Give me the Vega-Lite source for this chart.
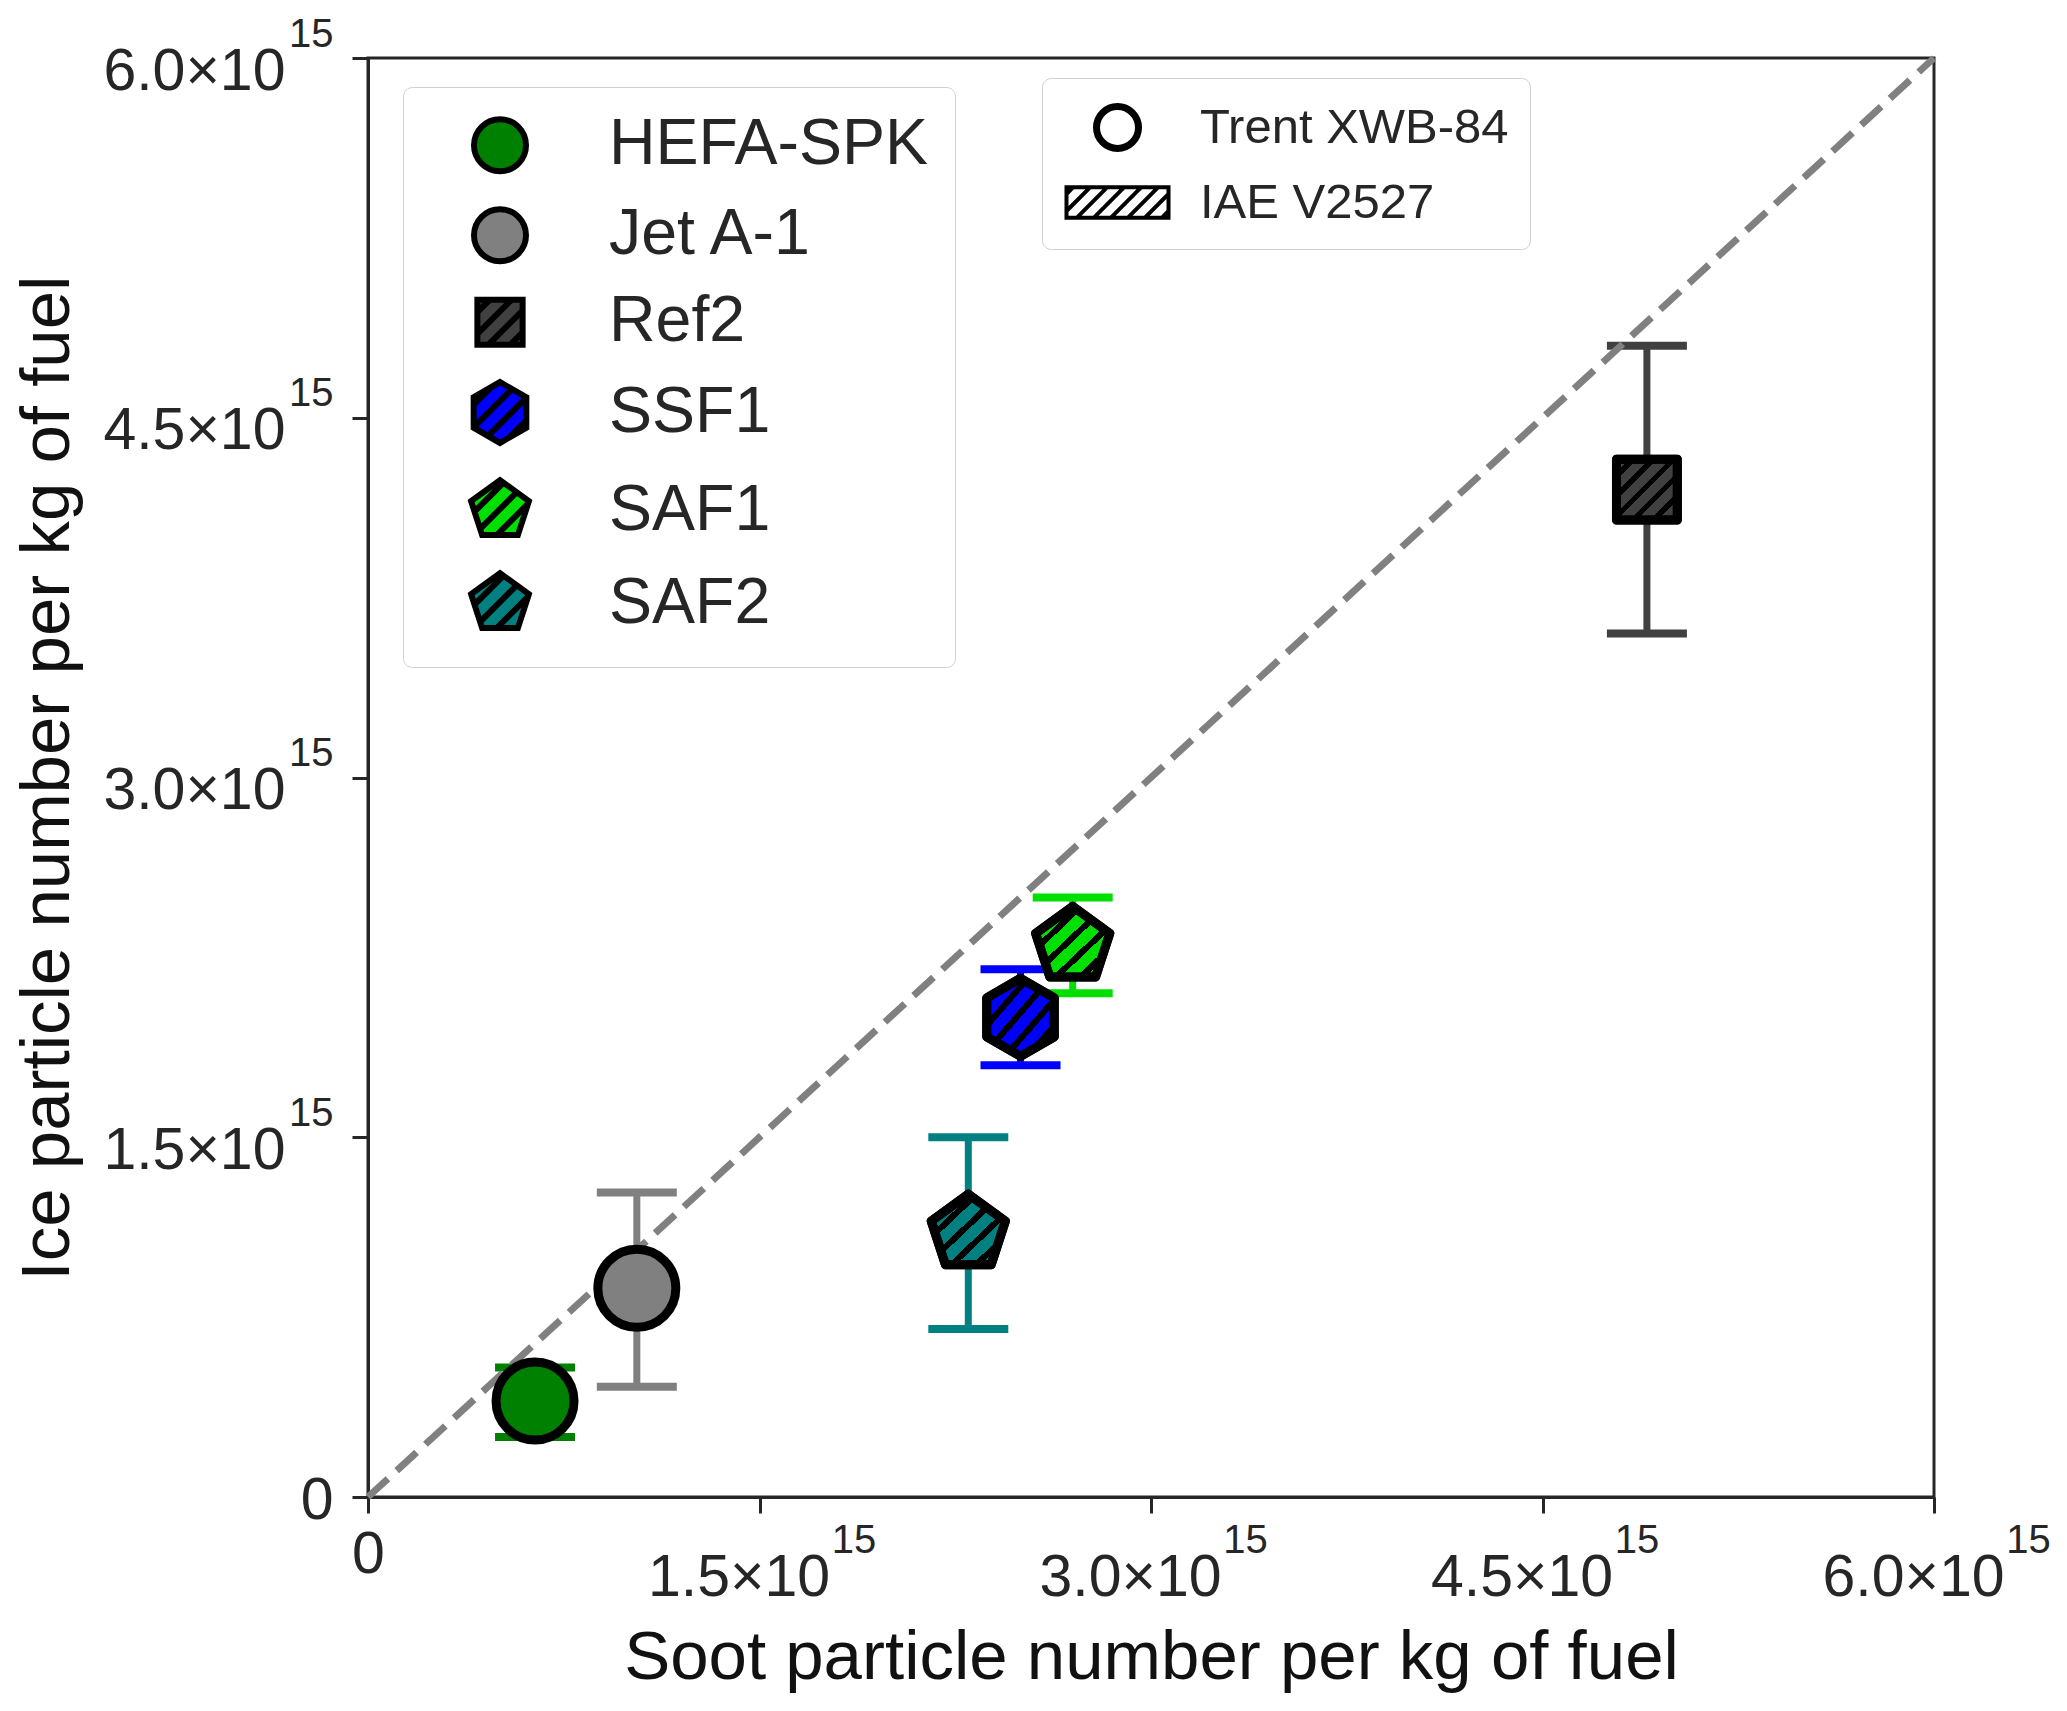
{
  "$schema": "https://vega.github.io/schema/vega-lite/v6.json",
  "width": 1566,
  "height": 1439,
  "autosize": {"type": "none"},
  "padding": {"left": 368, "top": 58, "right": 133, "bottom": 214},
  "background": "white",
  "config": {
    "font": "Liberation Sans",
    "view": {"stroke": "#262626", "strokeWidth": 3},
    "axis": {
      "grid": false,
      "domainColor": "#262626",
      "domainWidth": 3,
      "tickColor": "#262626",
      "tickWidth": 3,
      "tickSize": 16,
      "labelColor": "#262626",
      "labelFont": "Liberation Sans",
      "labelFlush": false,
      "labelOverlap": false,
      "labelBound": false,
      "labelLimit": 0,
      "titleFont": "Liberation Sans",
      "titleFontWeight": "normal",
      "titleColor": "#111111"
    },
    "legend": {"labelFont": "Liberation Sans", "labelColor": "#262626", "labelLimit": 0}
  },
  "datasets": {
    "fuels": [
      {"fuel": "HEFA-SPK", "engine": "Trent XWB-84", "soot": 0.64e15, "ice": 0.4e15, "ice_lo": 0.25e15, "ice_hi": 0.54e15},
      {"fuel": "Jet A-1", "engine": "Trent XWB-84", "soot": 1.03e15, "ice": 0.87e15, "ice_lo": 0.46e15, "ice_hi": 1.27e15},
      {"fuel": "Ref2", "engine": "IAE V2527", "soot": 4.9e15, "ice": 4.2e15, "ice_lo": 3.6e15, "ice_hi": 4.8e15},
      {"fuel": "SSF1", "engine": "IAE V2527", "soot": 2.5e15, "ice": 2.0e15, "ice_lo": 1.8e15, "ice_hi": 2.2e15},
      {"fuel": "SAF1", "engine": "IAE V2527", "soot": 2.7e15, "ice": 2.3e15, "ice_lo": 2.1e15, "ice_hi": 2.5e15},
      {"fuel": "SAF2", "engine": "IAE V2527", "soot": 2.3e15, "ice": 1.1e15, "ice_lo": 0.7e15, "ice_hi": 1.5e15}
    ],
    "diag": [
      {"soot": 0, "ice": 0},
      {"soot": 6e15, "ice": 6e15}
    ]
  },
  "resolve": {
    "axis": {"x": "independent", "y": "independent"},
    "scale": {"fill": "independent", "shape": "independent", "size": "independent", "strokeWidth": "independent"}
  },
  "layer": [
    {
      "data": {"name": "fuels"},
      "mark": {"type": "rule", "strokeWidth": 7, "opacity": 1},
      "encoding": {
        "x": {
          "field": "soot", "type": "quantitative",
          "scale": {"domain": [0, 6e15], "nice": false},
          "axis": {
            "orient": "bottom",
            "title": "Soot particle number per kg of fuel",
            "titleFontSize": 69,
            "titleY": 181,
            "titleBaseline": "alphabetic",
            "values": [0, 1.5e15, 3e15, 4.5e15, 6e15],
            "labelExpr": "datum.value == 0 ? '' : format(datum.value / 1e15, '.1f') + '×10'",
            "labelFontSize": 59,
            "labelOffset": -21,
            "labelPadding": 35,
            "labelBaseline": "top",
            "labelAlign": "center"
          }
        },
        "y": {
          "field": "ice_lo", "type": "quantitative",
          "scale": {"domain": [0, 6e15], "nice": false},
          "axis": {
            "orient": "left",
            "title": "Ice particle number per kg of fuel",
            "titleFontSize": 69,
            "titleX": -300,
            "titleY": 719.5,
            "titleAngle": -90,
            "titleAlign": "center",
            "titleBaseline": "alphabetic",
            "values": [0, 1.5e15, 3e15, 4.5e15, 6e15],
            "labelExpr": "datum.value == 0 ? '' : format(datum.value / 1e15, '.1f') + '×10'",
            "labelFontSize": 59,
            "labelOffset": 13,
            "labelPadding": 67,
            "labelAlign": "right",
            "labelBaseline": "middle"
          }
        },
        "y2": {"field": "ice_hi"},
        "color": {
          "field": "fuel", "type": "nominal",
          "scale": {
            "domain": ["SAF2", "SAF1", "SSF1", "Ref2", "Jet A-1", "HEFA-SPK"],
            "range": ["#008080", "#00e000", "#0000ff", "#404040", "#808080", "#008000"]
          },
          "legend": null
        }
      }
    },
    {
      "data": {"name": "fuels"},
      "mark": {"type": "tick", "orient": "horizontal", "size": 80, "thickness": 8, "opacity": 1},
      "encoding": {
        "x": {
          "field": "soot", "type": "quantitative",
          "scale": {"domain": [0, 6e15], "nice": false},
          "axis": {
            "orient": "bottom",
            "title": null,
            "domain": false,
            "tickOpacity": 0,
            "values": [0, 1.5e15, 3e15, 4.5e15, 6e15],
            "labelExpr": "datum.value == 0 ? '0' : '15'",
            "labelFontSize": {"condition": {"test": "datum.value == 0", "value": 59}, "value": 40},
            "labelOffset": {"condition": {"test": "datum.value == 0", "value": 0}, "value": 94},
            "labelPadding": {"condition": {"test": "datum.value == 0", "value": 12}, "value": 7},
            "labelBaseline": "top",
            "labelAlign": "center"
          }
        },
        "y": {
          "field": "ice_lo", "type": "quantitative",
          "scale": {"domain": [0, 6e15], "nice": false},
          "axis": {
            "orient": "left",
            "title": null,
            "domain": false,
            "tickOpacity": 0,
            "values": [0, 1.5e15, 3e15, 4.5e15, 6e15],
            "labelExpr": "datum.value == 0 ? '0' : '15'",
            "labelFontSize": {"condition": {"test": "datum.value == 0", "value": 59}, "value": 40},
            "labelOffset": {"condition": {"test": "datum.value == 0", "value": 3}, "value": -24},
            "labelPadding": 19,
            "labelAlign": "right",
            "labelBaseline": "middle"
          }
        },
        "color": {
          "field": "fuel", "type": "nominal",
          "scale": {
            "domain": ["SAF2", "SAF1", "SSF1", "Ref2", "Jet A-1", "HEFA-SPK"],
            "range": ["#008080", "#00e000", "#0000ff", "#404040", "#808080", "#008000"]
          },
          "legend": null
        }
      }
    },
    {
      "data": {"name": "fuels"},
      "mark": {"type": "tick", "orient": "horizontal", "size": 80, "thickness": 8, "opacity": 1},
      "encoding": {
        "x": {"field": "soot", "type": "quantitative", "scale": {"domain": [0, 6e15], "nice": false}, "axis": null},
        "y": {"field": "ice_hi", "type": "quantitative", "scale": {"domain": [0, 6e15], "nice": false}, "axis": null},
        "color": {
          "field": "fuel", "type": "nominal",
          "scale": {
            "domain": ["SAF2", "SAF1", "SSF1", "Ref2", "Jet A-1", "HEFA-SPK"],
            "range": ["#008080", "#00e000", "#0000ff", "#404040", "#808080", "#008000"]
          },
          "legend": null
        }
      }
    },
    {
      "data": {"name": "diag"},
      "mark": {"type": "line", "color": "#808080", "strokeWidth": 7, "strokeDash": [27, 12]},
      "encoding": {
        "x": {"field": "soot", "type": "quantitative", "scale": {"domain": [0, 6e15], "nice": false}, "axis": null},
        "y": {"field": "ice", "type": "quantitative", "scale": {"domain": [0, 6e15], "nice": false}, "axis": null}
      }
    },
    {
      "data": {"name": "fuels"},
      "mark": {"type": "point", "filled": true, "opacity": 1, "size": 6084, "stroke": "black", "strokeWidth": 9, "strokeJoin": "round"},
      "encoding": {
        "x": {"field": "soot", "type": "quantitative", "scale": {"domain": [0, 6e15], "nice": false}, "axis": null},
        "y": {"field": "ice", "type": "quantitative", "scale": {"domain": [0, 6e15], "nice": false}, "axis": null},
        "shape": {
          "field": "fuel", "type": "nominal",
          "scale": {
            "domain": ["HEFA-SPK", "Jet A-1", "Ref2", "SSF1", "SAF1", "SAF2"],
            "range": ["circle", "circle", "M-0.78,-0.78H0.78V0.78H-0.78Z", "M0,-1L0.866,-0.5L0.866,0.5L0,1L-0.866,0.5L-0.866,-0.5Z", "M0,-1L0.951,-0.309L0.588,0.809L-0.588,0.809L-0.951,-0.309Z", "M0,-1L0.951,-0.309L0.588,0.809L-0.588,0.809L-0.951,-0.309Z"]
          },
          "legend": null
        },
        "fill": {
          "field": "fuel", "type": "nominal",
          "scale": {
            "domain": ["HEFA-SPK", "Jet A-1", "Ref2", "SSF1", "SAF1", "SAF2"],
            "range": ["#008000", "#808080", "#404040", "#0000ff", "#00e000", "#008080"]
          },
          "legend": null
        }
      }
    },
    {
      "data": {"name": "fuels"},
      "transform": [{"filter": "datum.fuel == 'Ref2'"}],
      "mark": {
        "type": "point", "filled": true, "opacity": 1, "size": 6084, "stroke": "black", "strokeWidth": 9, "strokeJoin": "round",
        "shape": "M-0.78,-0.78H0.78V0.78H-0.78Z",
        "fill": {"gradient": "linear", "x1": 0, "y1": 0, "x2": 1, "y2": 1, "stops": [
          {"offset": 0, "color": "rgba(0,0,0,0)"}, {"offset": 0.107, "color": "rgba(0,0,0,0)"}, {"offset": 0.107, "color": "black"}, {"offset": 0.167, "color": "black"},
          {"offset": 0.167, "color": "rgba(0,0,0,0)"}, {"offset": 0.273, "color": "rgba(0,0,0,0)"}, {"offset": 0.273, "color": "black"}, {"offset": 0.333, "color": "black"},
          {"offset": 0.333, "color": "rgba(0,0,0,0)"}, {"offset": 0.44, "color": "rgba(0,0,0,0)"}, {"offset": 0.44, "color": "black"}, {"offset": 0.5, "color": "black"},
          {"offset": 0.5, "color": "rgba(0,0,0,0)"}, {"offset": 0.607, "color": "rgba(0,0,0,0)"}, {"offset": 0.607, "color": "black"}, {"offset": 0.667, "color": "black"},
          {"offset": 0.667, "color": "rgba(0,0,0,0)"}, {"offset": 0.773, "color": "rgba(0,0,0,0)"}, {"offset": 0.773, "color": "black"}, {"offset": 0.833, "color": "black"},
          {"offset": 0.833, "color": "rgba(0,0,0,0)"}, {"offset": 0.94, "color": "rgba(0,0,0,0)"}, {"offset": 0.94, "color": "black"}, {"offset": 1, "color": "black"}]}
      },
      "encoding": {
        "x": {"field": "soot", "type": "quantitative", "scale": {"domain": [0, 6e15], "nice": false}, "axis": null},
        "y": {"field": "ice", "type": "quantitative", "scale": {"domain": [0, 6e15], "nice": false}, "axis": null}
      }
    },
    {
      "data": {"name": "fuels"},
      "transform": [{"filter": "datum.fuel == 'SSF1'"}],
      "mark": {
        "type": "point", "filled": true, "opacity": 1, "size": 6084, "stroke": "black", "strokeWidth": 9, "strokeJoin": "round",
        "shape": "M0,-1L0.866,-0.5L0.866,0.5L0,1L-0.866,0.5L-0.866,-0.5Z",
        "fill": {"gradient": "linear", "x1": 0, "y1": 0, "x2": 1, "y2": 1, "stops": [
          {"offset": 0, "color": "rgba(0,0,0,0)"}, {"offset": 0.107, "color": "rgba(0,0,0,0)"}, {"offset": 0.107, "color": "black"}, {"offset": 0.167, "color": "black"},
          {"offset": 0.167, "color": "rgba(0,0,0,0)"}, {"offset": 0.273, "color": "rgba(0,0,0,0)"}, {"offset": 0.273, "color": "black"}, {"offset": 0.333, "color": "black"},
          {"offset": 0.333, "color": "rgba(0,0,0,0)"}, {"offset": 0.44, "color": "rgba(0,0,0,0)"}, {"offset": 0.44, "color": "black"}, {"offset": 0.5, "color": "black"},
          {"offset": 0.5, "color": "rgba(0,0,0,0)"}, {"offset": 0.607, "color": "rgba(0,0,0,0)"}, {"offset": 0.607, "color": "black"}, {"offset": 0.667, "color": "black"},
          {"offset": 0.667, "color": "rgba(0,0,0,0)"}, {"offset": 0.773, "color": "rgba(0,0,0,0)"}, {"offset": 0.773, "color": "black"}, {"offset": 0.833, "color": "black"},
          {"offset": 0.833, "color": "rgba(0,0,0,0)"}, {"offset": 0.94, "color": "rgba(0,0,0,0)"}, {"offset": 0.94, "color": "black"}, {"offset": 1, "color": "black"}]}
      },
      "encoding": {
        "x": {"field": "soot", "type": "quantitative", "scale": {"domain": [0, 6e15], "nice": false}, "axis": null},
        "y": {"field": "ice", "type": "quantitative", "scale": {"domain": [0, 6e15], "nice": false}, "axis": null}
      }
    },
    {
      "data": {"name": "fuels"},
      "transform": [{"filter": "datum.fuel == 'SAF1' || datum.fuel == 'SAF2'"}],
      "mark": {
        "type": "point", "filled": true, "opacity": 1, "size": 6084, "stroke": "black", "strokeWidth": 9, "strokeJoin": "round",
        "shape": "M0,-1L0.951,-0.309L0.588,0.809L-0.588,0.809L-0.951,-0.309Z",
        "fill": {"gradient": "linear", "x1": 0, "y1": 0, "x2": 1, "y2": 1, "stops": [
          {"offset": 0, "color": "rgba(0,0,0,0)"}, {"offset": 0.107, "color": "rgba(0,0,0,0)"}, {"offset": 0.107, "color": "black"}, {"offset": 0.167, "color": "black"},
          {"offset": 0.167, "color": "rgba(0,0,0,0)"}, {"offset": 0.273, "color": "rgba(0,0,0,0)"}, {"offset": 0.273, "color": "black"}, {"offset": 0.333, "color": "black"},
          {"offset": 0.333, "color": "rgba(0,0,0,0)"}, {"offset": 0.44, "color": "rgba(0,0,0,0)"}, {"offset": 0.44, "color": "black"}, {"offset": 0.5, "color": "black"},
          {"offset": 0.5, "color": "rgba(0,0,0,0)"}, {"offset": 0.607, "color": "rgba(0,0,0,0)"}, {"offset": 0.607, "color": "black"}, {"offset": 0.667, "color": "black"},
          {"offset": 0.667, "color": "rgba(0,0,0,0)"}, {"offset": 0.773, "color": "rgba(0,0,0,0)"}, {"offset": 0.773, "color": "black"}, {"offset": 0.833, "color": "black"},
          {"offset": 0.833, "color": "rgba(0,0,0,0)"}, {"offset": 0.94, "color": "rgba(0,0,0,0)"}, {"offset": 0.94, "color": "black"}, {"offset": 1, "color": "black"}]}
      },
      "encoding": {
        "x": {"field": "soot", "type": "quantitative", "scale": {"domain": [0, 6e15], "nice": false}, "axis": null},
        "y": {"field": "ice", "type": "quantitative", "scale": {"domain": [0, 6e15], "nice": false}, "axis": null}
      }
    },
    {
      "data": {"name": "fuels"},
      "transform": [{"filter": "false"}],
      "mark": {"type": "point", "filled": true, "opacity": 1, "stroke": "black", "strokeWidth": 6, "strokeJoin": "round"},
      "encoding": {
        "x": {"field": "soot", "type": "quantitative", "scale": {"domain": [0, 6e15], "nice": false}, "axis": null},
        "y": {"field": "ice", "type": "quantitative", "scale": {"domain": [0, 6e15], "nice": false}, "axis": null},
        "shape": {
          "field": "fuel", "type": "nominal",
          "scale": {
            "domain": ["HEFA-SPK", "Jet A-1", "Ref2", "SSF1", "SAF1", "SAF2"],
            "range": [
              "circle",
              "circle",
              "M-0.78,-0.78H0.78V0.78H-0.78Z M-0.78,-0.345L-0.345,-0.78 M-0.78,0.405L0.405,-0.78 M-0.405,0.78L0.78,-0.405 M0.345,0.78L0.78,0.345",
              "M0,-1L0.866,-0.5L0.866,0.5L0,1L-0.866,0.5L-0.866,-0.5Z M-0.866,-0.259L-0.296,-0.83 M-0.866,0.491L0.396,-0.771 M-0.396,0.771L0.866,-0.491 M0.296,0.83L0.866,0.259",
              "M0,-1L0.951,-0.309L0.588,0.809L-0.588,0.809L-0.951,-0.309Z M-0.838,0.038L0.116,-0.916 M-0.654,0.604L0.55,-0.6 M-0.109,0.809L0.923,-0.223",
              "M0,-1L0.951,-0.309L0.588,0.809L-0.588,0.809L-0.951,-0.309Z M-0.838,0.038L0.116,-0.916 M-0.654,0.604L0.55,-0.6 M-0.109,0.809L0.923,-0.223"
            ]
          }
        },
        "size": {
          "field": "fuel", "type": "nominal",
          "scale": {
            "type": "ordinal",
            "domain": ["HEFA-SPK", "Jet A-1", "Ref2", "SSF1", "SAF1", "SAF2"],
            "range": [2704, 2704, 3364, 3700, 3700, 3700]
          }
        },
        "fill": {
          "field": "fuel", "type": "nominal",
          "scale": {
            "domain": ["HEFA-SPK", "Jet A-1", "Ref2", "SSF1", "SAF1", "SAF2"],
            "range": ["#008000", "#808080", "#404040", "#0000ff", "#00e000", "#008080"]
          },
          "legend": {
            "title": null,
            "orient": "none",
            "legendX": 35,
            "legendY": 29,
            "padding": 26,
            "symbolOffset": 37.5,
            "labelOffset": 75.5,
            "rowPadding": 13,
            "symbolSize": 3481,
            "symbolStrokeColor": "black",
            "symbolStrokeWidth": 6,
            "symbolOpacity": 1,
            "labelFontSize": 64.5,
            "fillColor": "white",
            "strokeColor": "#d0d0d0",
            "cornerRadius": 9
          }
        }
      }
    },
    {
      "data": {"name": "fuels"},
      "transform": [{"filter": "false"}],
      "mark": {"type": "point", "filled": true, "opacity": 1, "stroke": "black"},
      "encoding": {
        "x": {"field": "soot", "type": "quantitative", "scale": {"domain": [0, 6e15], "nice": false}, "axis": null},
        "y": {"field": "ice", "type": "quantitative", "scale": {"domain": [0, 6e15], "nice": false}, "axis": null},
        "shape": {
          "field": "engine", "type": "nominal",
          "scale": {
            "domain": ["Trent XWB-84", "IAE V2527"],
            "range": [
              "M-0.84,0A0.84,0.84,0,1,1,0.84,0A0.84,0.84,0,1,1,-0.84,0Z",
              "M-2.04,-0.612H2.04V0.612H-2.04Z M-2.04,-0.34L-1.769,-0.612 M-2.04,0.34L-1.087,-0.612 M-1.632,0.612L-0.408,-0.612 M-0.953,0.612L0.271,-0.612 M-0.271,0.612L0.953,-0.612 M0.408,0.612L1.632,-0.612 M1.087,0.612L2.04,-0.34 M1.769,0.612L2.04,0.34"
            ]
          }
        },
        "strokeWidth": {
          "field": "engine", "type": "ordinal",
          "scale": {"type": "ordinal", "domain": ["Trent XWB-84", "IAE V2527"], "range": [7, 4]}
        },
        "fill": {
          "field": "engine", "type": "nominal",
          "scale": {"domain": ["Trent XWB-84", "IAE V2527"], "range": ["white", "white"]},
          "legend": {
            "title": null,
            "orient": "none",
            "legendX": 674,
            "legendY": 20,
            "padding": 21,
            "symbolOffset": 26,
            "labelOffset": 54,
            "rowPadding": 12.5,
            "symbolSize": 2500,
            "symbolStrokeColor": "black",
            "symbolOpacity": 1,
            "labelFontSize": 49,
            "fillColor": "white",
            "strokeColor": "#d0d0d0",
            "cornerRadius": 9
          }
        }
      }
    }
  ]
}
